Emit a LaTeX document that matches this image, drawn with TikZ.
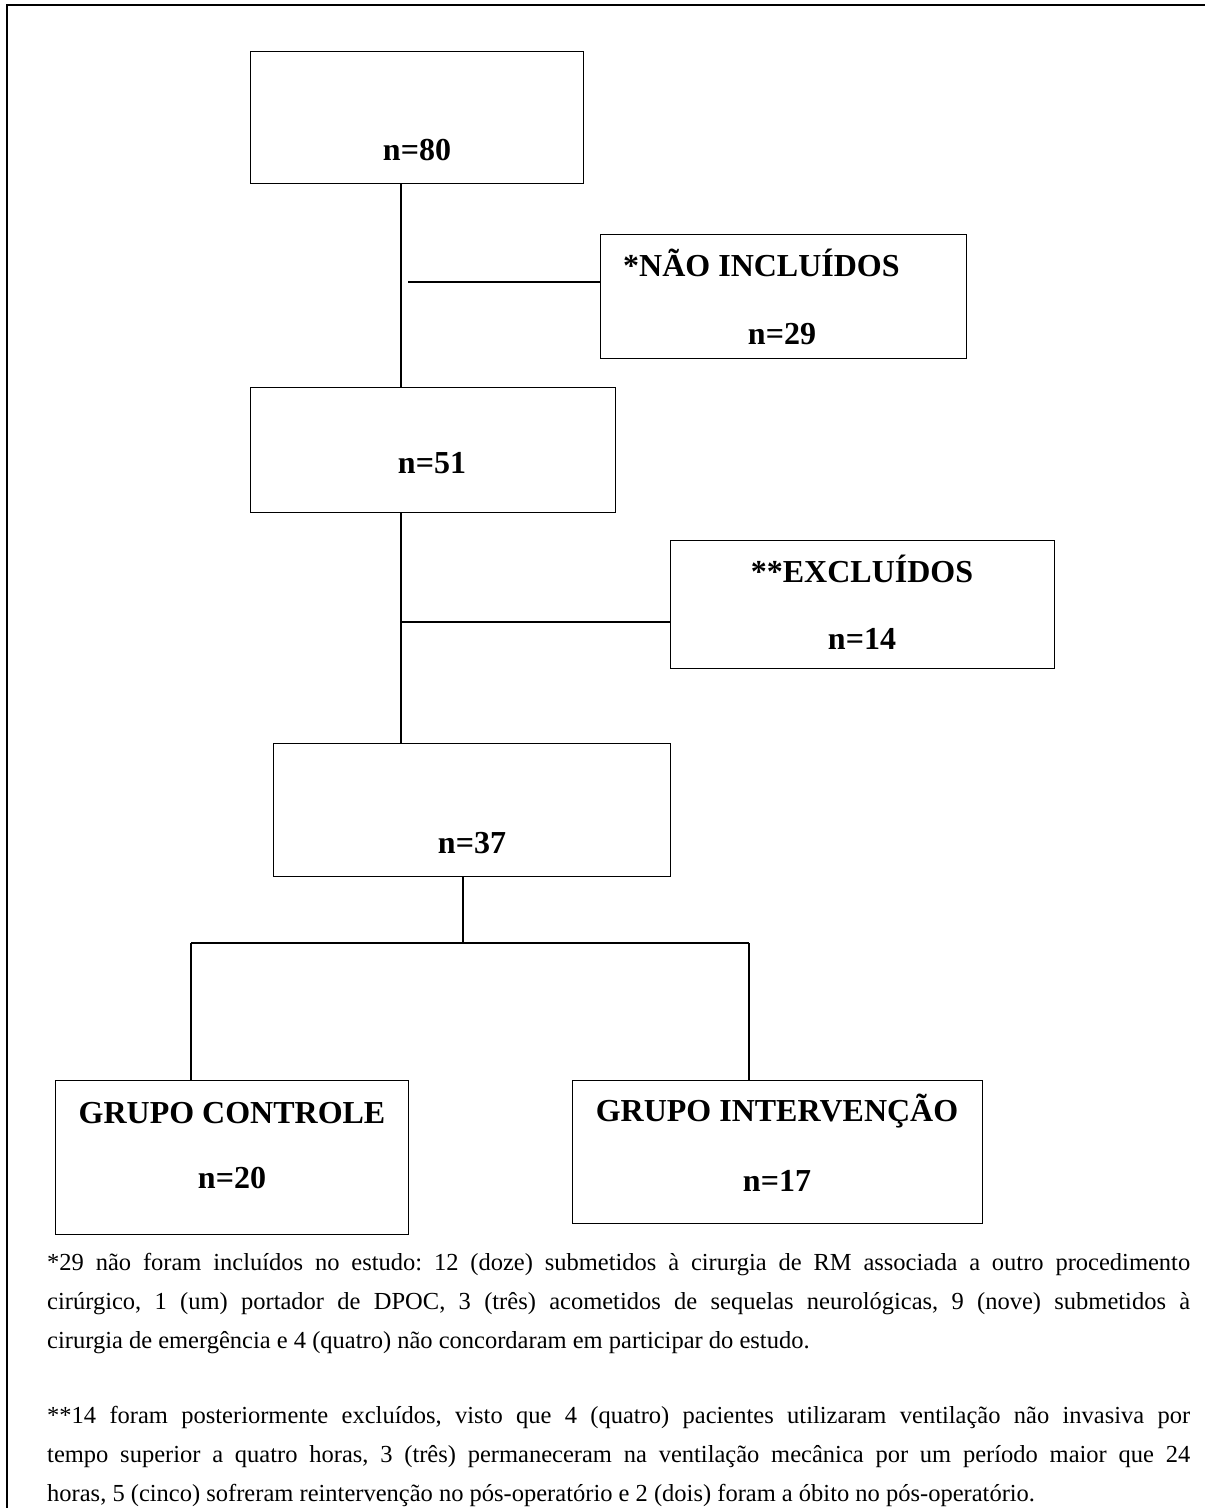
\documentclass[tikz,border=0pt]{standalone}
\usepackage{fontspec}
\setmainfont{Liberation Serif}
\frenchspacing
\begin{document}
\begin{tikzpicture}[x=1pt,y=-1pt,
  box/.style={draw, line width=1.4pt, inner sep=0pt, anchor=north west},
  lbl/.style={font=\fontsize{32}{38}\selectfont\bfseries, inner sep=0pt, anchor=base},
  link/.style={line width=1.4pt},
  para/.style={font=\fontsize{24.5}{39}\selectfont, inner sep=0pt, anchor=base west, text width=1143pt, align=justify}]
\useasboundingbox (0,0) rectangle (1205,1508);
% outer frame (right and bottom edges fall outside the picture)
\draw[line width=2.5pt] (7,1508) -- (7,5) -- (1205,5);
% boxes
\node[box, minimum width=333pt, minimum height=132pt] (b1) at (250,51) {};
\node[box, minimum width=366pt, minimum height=124pt] (nao) at (600,234) {};
\node[box, minimum width=365pt, minimum height=125pt] (b2) at (250,387) {};
\node[box, minimum width=384pt, minimum height=128pt] (excl) at (670,540) {};
\node[box, minimum width=397pt, minimum height=133pt] (b3) at (273,743) {};
\node[box, minimum width=353pt, minimum height=154pt] (gc) at (55,1080) {};
\node[box, minimum width=410pt, minimum height=143pt] (gi) at (572,1080) {};
% labels
\node[lbl] (t80) at (417,160) {n=80};
\node[lbl, anchor=base west] (tnao) at (623,276) {*NÃO INCLUÍDOS};
\node[lbl] (t29) at (782,344) {n=29};
\node[lbl] (t51) at (432,473) {n=51};
\node[lbl] (texcl) at (862,582) {**EXCLUÍDOS};
\node[lbl] (t14) at (862,649) {n=14};
\node[lbl] (t37) at (472,853) {n=37};
\node[lbl] (tgc) at (232,1123) {GRUPO CONTROLE};
\node[lbl] (t20) at (232,1188) {n=20};
\node[lbl] (tgi) at (777,1121) {GRUPO INTERVENÇÃO};
\node[lbl] (t17) at (777,1191) {n=17};
% connector helpers
\coordinate (spine) at (401,0);
\coordinate (h1) at (408,282);
\coordinate (h2) at (401,622);
\coordinate (split) at (463,943);
\coordinate (lft) at (191,943);
\coordinate (rgt) at (749,943);
% connectors
\draw[link] (b1.south -| spine) -- (b2.north -| spine);
\draw[link] (h1) -- (h1 -| nao.west);
\draw[link] (b2.south -| spine) -- (b3.north -| spine);
\draw[link] (h2) -- (h2 -| excl.west);
\draw[link] (b3.south -| split) -- (split);
\draw[link] (lft) -- (rgt);
\draw[link] (lft) -- (lft |- gc.north);
\draw[link] (rgt) -- (rgt |- gi.north);
% notes
\node[para] (note1) at (47,1270) {*29 não foram incluídos no estudo: 12 (doze) submetidos à cirurgia de RM associada a outro procedimento\linebreak cirúrgico, 1 (um) portador de DPOC, 3 (três) acometidos de sequelas neurológicas, 9 (nove) submetidos à\linebreak cirurgia de emergência e 4 (quatro) não concordaram em participar do estudo.};
\node[para] (note2) at (47,1423) {**14 foram posteriormente excluídos, visto que 4 (quatro) pacientes utilizaram ventilação não invasiva por\linebreak tempo superior a quatro horas, 3 (três) permaneceram na ventilação mecânica por um período maior que 24\linebreak horas, 5 (cinco) sofreram reintervenção no pós-operatório e 2 (dois) foram a óbito no pós-operatório.};
\end{tikzpicture}
\end{document}
